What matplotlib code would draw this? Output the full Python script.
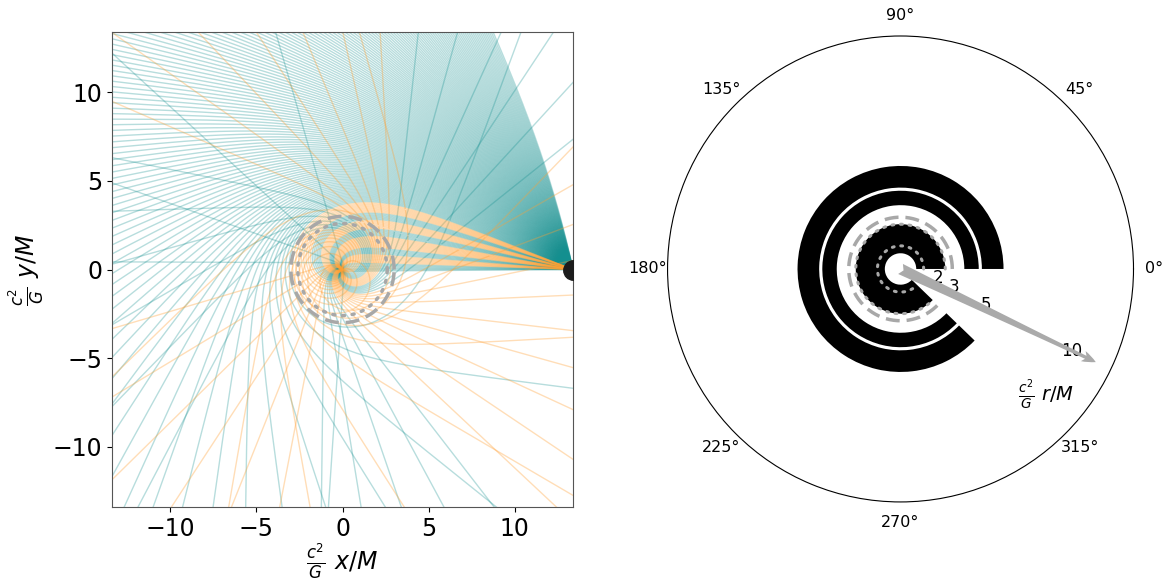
import numpy as np
import matplotlib.pyplot as plt

# black hole spin and light source (units of G M / c^2)
spin = 0.1
r_source = 13.4
lim = 13.4
n_rays = 200
psi_range = [0.0, 76.0]   # emission angle from the inward radial direction, deg

# captured rays are drawn in bands (fraction of the capture cone, from the axis)
band_edges = [0.0, 0.1, 0.22, 0.32, 0.5, 0.6, 0.75, 0.85, 1.01]
band_colors = ["teal", "orange", "teal", "orange", "teal", "orange", "teal", "orange"]

# reference circles on the ray plot
r_dashed_left = 3.0
r_dotted_left = 2.6

# right panel: black annular sectors, all running from 0 deg to arc_end
ring_inner = [0.85, 3.45, 4.40]
ring_outer = [2.42, 4.23, 5.57]
arc_end_deg = 316
r_dashed_right = 2.8
r_dotted_right = [1.25, 2.42]
rticks = [2, 3, 5, 10]
rmax = 12.6
rlabel_deg = -29.5
arrow_deg = -25.5
arrow_len = 11.7

teal = "#138f8f"
orange = "#ffa033"
grey = "#a8a8a8"

a = spin


def deriv(r, v, b):
    P = r * r + a * a - a * b
    dR = 4 * r * P - (2 * r - 2) * (b - a) ** 2
    phid = (b - a) + a * (b - a) ** 2 * np.sign(P) / (np.abs(P) + np.abs(v) + 1e-9)
    s = 1.0 / (1.0 + r * r)
    return v * s, 0.5 * dR * s, phid * s


psi = np.deg2rad(np.linspace(psi_range[0], psi_range[1], n_rays))
b = r_source * np.sin(psi) / np.sqrt(1 - 2 / r_source)
P0 = r_source ** 2 + a * a - a * b
R0 = P0 ** 2 - (r_source ** 2 - 2 * r_source + a * a) * (b - a) ** 2
r = np.full(n_rays, r_source)
v = -np.sqrt(np.maximum(R0, 0))
phi = np.zeros(n_rays)
r_plus = 1 + np.sqrt(1 - a * a)
captured = np.zeros(n_rays, bool)

dt = 0.01
rs, phis = [r.copy()], [phi.copy()]
for i in range(16000):
    live = ~((r > 30) & (v > 0))
    if not live.any():
        break
    k1 = deriv(r, v, b)
    k2 = deriv(r + 0.5 * dt * k1[0], v + 0.5 * dt * k1[1], b)
    k3 = deriv(r + 0.5 * dt * k2[0], v + 0.5 * dt * k2[1], b)
    k4 = deriv(r + dt * k3[0], v + dt * k3[1], b)
    m = live * dt / 6
    r = r + m * (k1[0] + 2 * k2[0] + 2 * k3[0] + k4[0])
    v = v + m * (k1[1] + 2 * k2[1] + 2 * k3[1] + k4[1])
    phi = phi + m * (k1[2] + 2 * k2[2] + 2 * k3[2] + k4[2])
    captured |= r < r_plus
    if i % 2 == 0:
        rs.append(r.copy())
        phis.append(phi.copy())
rs = np.array(rs)
phis = np.array(phis)
xs = rs * np.cos(phis)
ys = rs * np.sin(phis)

# colour of every ray
psi_c = psi[captured].max()
cols = []
for j in range(n_rays):
    if not captured[j]:
        cols.append("teal")
    else:
        f = psi[j] / psi_c
        k = np.searchsorted(band_edges, f, side="right") - 1
        cols.append(band_colors[min(k, len(band_colors) - 1)])

fig = plt.figure(figsize=(11.64, 5.83), dpi=100)
ax = fig.add_axes([0.0962, 0.1304, 0.3961, 0.8146])
for j in range(n_rays):
    if cols[j] == "teal":
        ax.plot(xs[:, j], ys[:, j], color=teal, alpha=0.3, lw=1)
for j in range(n_rays):
    if cols[j] == "orange":
        ax.plot(xs[:, j], ys[:, j], color=orange, alpha=0.35, lw=1)
t = np.linspace(0, 2 * np.pi, 300)
ax.plot(r_dashed_left * np.cos(t), r_dashed_left * np.sin(t), color=grey, lw=2.5,
        ls=(0, (4, 2)), zorder=5)
ax.plot(r_dotted_left * np.cos(t), r_dotted_left * np.sin(t), color=grey, lw=2.5,
        ls=(0, (0.6, 2.2)), dash_capstyle="round", zorder=5)
ax.plot([r_source], [0], "o", color="#1c1c1c", ms=14, zorder=6)
ax.set_xlim(-lim, lim)
ax.set_ylim(-lim, lim)
ax.set_xticks([-10, -5, 0, 5, 10])
ax.set_yticks([-10, -5, 0, 5, 10])
ax.tick_params(labelsize=17)
ax.set_xlabel(r"$\frac{c^2}{G}\ x/M$", fontsize=17, labelpad=1)
ax.set_ylabel(r"$\frac{c^2}{G}\ y/M$", fontsize=17)
for s in ax.spines.values():
    s.set_color("#555555")

# right panel
pax = fig.add_axes([0.5735, 0.139, 0.4003, 0.7993], projection="polar")
w = np.deg2rad(arc_end_deg)
for ri, ro in zip(ring_inner, ring_outer):
    pax.bar(0, ro - ri, width=w, bottom=ri, align="edge", color="black", lw=0)
tt = np.linspace(0, w, 300)
pax.plot(tt, np.full_like(tt, r_dashed_right), color=grey, lw=2.5, ls=(0, (4, 2)))
for rd in r_dotted_right:
    pax.plot(tt, np.full_like(tt, rd), color=grey, lw=2.2, ls=(0, (0.6, 2.2)),
             dash_capstyle="round")
pax.set_rlim(0, rmax)
pax.set_rticks(rticks)
pax.set_rlabel_position(rlabel_deg)
pax.grid(False)
pax.tick_params(axis="x", labelsize=11.5, pad=4)
pax.tick_params(axis="y", labelsize=12)
pax.annotate("", xy=(np.deg2rad(arrow_deg), arrow_len), xytext=(0, 0),
             arrowprops=dict(arrowstyle="fancy,head_length=1.0,head_width=0.8,tail_width=0.8",
                             color="#aaaaaa", lw=0, shrinkA=0, shrinkB=0))
pax.text(np.deg2rad(-41), 10.4, r"$\frac{c^2}{G}\ r/M$", fontsize=14,
         ha="center", va="center")

fig.savefig("out.png", dpi=100)
